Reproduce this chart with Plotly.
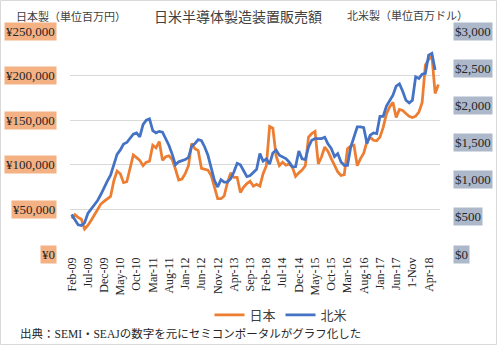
import plotly.graph_objects as go
import pandas as pd

# Monthly data, Feb-2009 onward
japan = [40000, 44000, 41000, 39000, 28000, 32000, 37500, 44000, 50500, 56000,
         59000, 62000, 64500, 82000, 93000, 90000, 80000, 81000, 95000, 111000,
         108000, 105000, 99000, 103000, 104000, 122000, 119000, 126000, 105000, 109000,
         110000, 106000, 95000, 83000, 84000, 90000, 99000, 124000, 118000, 116000,
         96000, 95000, 94000, 88000, 76000, 62000, 62000, 65000, 80000, 91000,
         86000, 86000, 69000, 75000, 79000, 81500, 76000, 78000, 76000, 90000,
         99000, 143000, 141000, 110000, 99000, 103000, 99500, 101000, 97500, 87000,
         91000, 94000, 99000, 131000, 135000, 137500, 101000, 109000, 120000, 115000,
         107000, 99000, 92000, 88000, 89000, 118000, 121000, 122000, 99000, 107000,
         113000, 126000, 131000, 127500, 127000, 131000, 142000, 157000, 165000, 170000,
         153000, 162000, 161000, 157500, 154500, 153000, 154500, 159000, 170000, 212000,
         218000, 222000, 180000, 190000]
na = [530, 452, 393, 384, 420, 545, 600, 655, 720, 800,
      900, 980, 1060, 1200, 1340, 1400, 1480, 1500, 1553, 1611,
      1629, 1575, 1740, 1800, 1818, 1660, 1630, 1650, 1640, 1560,
      1460, 1340, 1200, 1240, 1250, 1270, 1300, 1450, 1486, 1540,
      1526, 1440, 1328, 1170, 991, 901, 1000, 968, 968, 1014,
      1103, 1220, 1200, 1120, 1040, 1055, 1100, 1140, 1351, 1250,
      1280, 1210, 1360, 1398, 1330, 1305, 1283, 1238, 1172, 1175,
      1386, 1280, 1270, 1440, 1530, 1553, 1553, 1553, 1570, 1480,
      1420, 1310, 1351, 1238, 1193, 1193, 1440, 1575, 1709, 1709,
      1700, 1486, 1600, 1628, 1620, 1853, 1853, 1990, 2070, 2137,
      2260, 2290, 2190, 2069, 2033, 2069, 2383, 2362, 2420, 2430,
      2676, 2699, 2474]

months = [d.strftime("%Y-%m") for d in pd.date_range("2009-02-01", periods=len(japan), freq="MS")]
tick_labels = ["Feb-09", "Jul-09", "Dec-09", "May-10", "Oct-10", "Mar-11", "Aug-11",
               "Jan-12", "Jun-12", "Nov-12", "Apr-13", "Sep-13", "Feb-18", "Jul-14",
               "Dec-14", "May-15", "Oct-15", "Mar-16", "Aug-16", "Jan-17", "Jun-17",
               "1-Nov", "Apr-18"]
tick_step = 5
left_ticks = [0, 50000, 100000, 150000, 200000, 250000]
right_ticks = [0, 500, 1000, 1500, 2000, 2500, 3000]

title = "日米半導体製造装置販売額"
left_title = "日本製（単位百万円）"
right_title = "北米製（単位百万ドル）"
source = "出典：SEMI・SEAJの数字を元にセミコンポータルがグラフ化した"

SERIF = "Liberation Serif, Noto Sans CJK JP"
ORANGE = "#ED7D31"
BLUE = "#4472C4"

fig = go.Figure()
fig.add_trace(go.Scatter(x=months, y=japan, name="日本", mode="lines",
                         line=dict(color=ORANGE, width=2.75)))
fig.add_trace(go.Scatter(x=months[:len(na)], y=na, name="北米", mode="lines",
                         line=dict(color=BLUE, width=2.75), yaxis="y2"))

W, H = 497, 345
ml, mr, mt, mb = 70, 57, 31, 91
pw = W - ml - mr
ph = H - mt - mb

fig.update_layout(
    width=W, height=H, margin=dict(l=ml, r=mr, t=mt, b=mb, autoexpand=False),
    paper_bgcolor="white", plot_bgcolor="white",
    font=dict(family=SERIF, color="#262626", size=12),
    xaxis=dict(type="category", tickmode="array",
               tickvals=months[::tick_step], ticktext=tick_labels,
               tickangle=-90, tickfont=dict(size=12, color="#262626"),
               showgrid=False, showline=False, ticks="", ticklen=0,
               range=[-0.5, len(japan) - 0.5]),
    yaxis=dict(range=[0, 250000], tickvals=left_ticks, showticklabels=False,
               showgrid=True, gridcolor="#D9D9D9", gridwidth=1, zeroline=False),
    yaxis2=dict(range=[0, 3000], tickvals=right_ticks, showticklabels=False,
                overlaying="y", side="right", showgrid=False, zeroline=False),
    showlegend=True,
    legend=dict(orientation="h", x=(281 - ml) / pw, xanchor="center",
                yref="container", y=(H - 315) / H, yanchor="middle",
                font=dict(size=13, family=SERIF, color="#404040"),
                bgcolor="rgba(0,0,0,0)", itemwidth=30, tracegroupgap=0),
)

ann = []
for v in left_ticks:
    ann.append(dict(xref="paper", yref="y", x=(57 - ml) / pw, y=v, xanchor="right",
                    yanchor="middle", text=f"¥{v:,}", showarrow=False,
                    bgcolor="#F4B183", borderpad=1,
                    font=dict(size=13, family=SERIF, color="#262626")))
for v in right_ticks:
    ann.append(dict(xref="paper", yref="y2", x=(453 - ml) / pw, y=v, xanchor="left",
                    yanchor="middle", text=f"${v:,}", showarrow=False,
                    bgcolor="#ADB9CA", borderpad=1,
                    font=dict(size=13, family=SERIF, color="#262626")))
ann.append(dict(xref="paper", yref="paper", x=(238 - ml) / pw, y=(H - mb - 17) / ph,
                xanchor="center", yanchor="middle", text=title, showarrow=False,
                font=dict(size=14, family=SERIF, color="#404040")))
ann.append(dict(xref="paper", yref="paper", x=(14 - ml) / pw, y=(H - mb - 16) / ph,
                xanchor="left", yanchor="middle", text=left_title, showarrow=False,
                font=dict(size=11, family=SERIF, color="#404040")))
ann.append(dict(xref="paper", yref="paper", x=(345 - ml) / pw, y=(H - mb - 15) / ph,
                xanchor="left", yanchor="middle", text=right_title, showarrow=False,
                font=dict(size=11, family=SERIF, color="#404040")))
ann.append(dict(xref="paper", yref="paper", x=(18 - ml) / pw, y=(H - mb - 333) / ph,
                xanchor="left", yanchor="middle", text=source, showarrow=False,
                font=dict(size=11.5, family=SERIF, color="#262626")))
fig.update_layout(annotations=ann)

fig.add_shape(type="rect", xref="paper", yref="paper",
              x0=(0.5 - ml) / pw, x1=(W - 0.5 - ml) / pw,
              y0=(H - mb - (H - 0.5)) / ph, y1=(H - mb - 0.5) / ph,
              line=dict(color="#D9D9D9", width=1), fillcolor="rgba(0,0,0,0)", layer="below")

fig.write_html("out.html")
